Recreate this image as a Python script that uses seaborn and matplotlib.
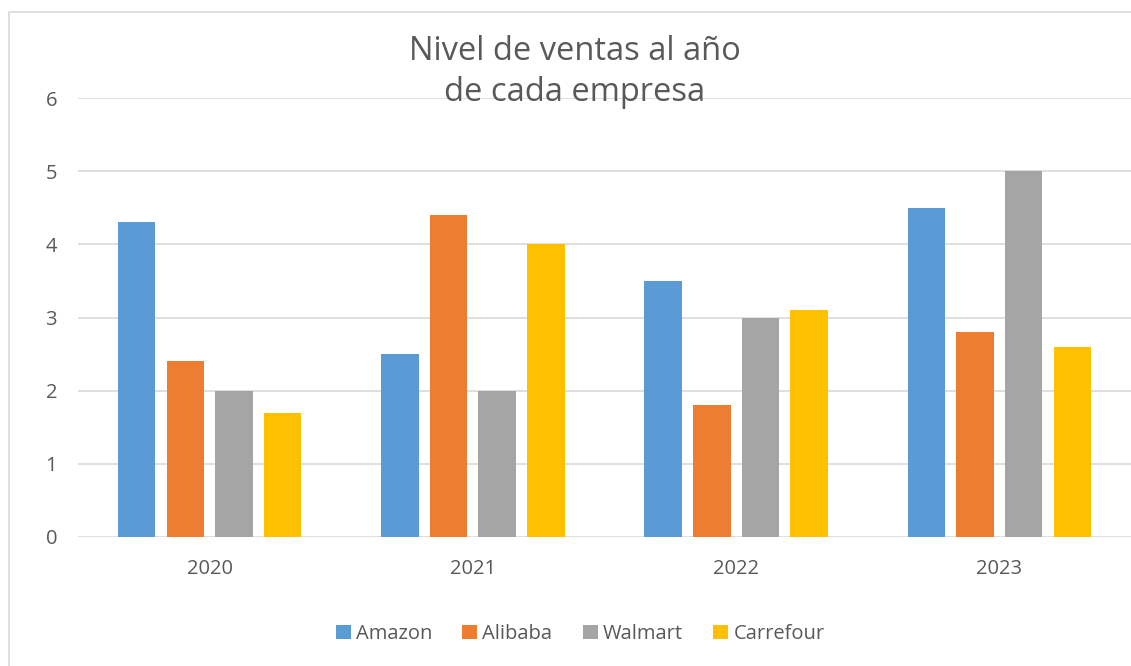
import matplotlib
matplotlib.use("Agg")
import matplotlib.pyplot as plt
import seaborn as sns
import pandas as pd
from matplotlib.patches import Rectangle, Patch

years = ["2020", "2021", "2022", "2023"]
companies = ["Amazon", "Alibaba", "Walmart", "Carrefour"]
amazon = [4.3, 2.5, 3.5, 4.5]
alibaba = [2.4, 4.4, 1.8, 2.8]
walmart = [2.0, 2.0, 3.0, 5.0]
carrefour = [1.7, 4.0, 3.1, 2.6]
colors = ["#5B9BD5", "#ED7D31", "#A5A5A5", "#FFC000"]
title = "Nivel de ventas al año\nde cada empresa"

rows = []
for comp, vals in zip(companies, [amazon, alibaba, walmart, carrefour]):
    for y, v in zip(years, vals):
        rows.append({"Año": y, "Empresa": comp, "Ventas": v})
df = pd.DataFrame(rows)

sns.set_theme(style="white")
plt.rcParams["font.family"] = ["Open Sans", "DejaVu Sans"]
txt = "#595959"

W, H = 1131, 666
fig = plt.figure(figsize=(W / 100, H / 100), dpi=100)
ax = fig.add_axes([78 / W, 1 - 537 / H, (1131 - 78) / W, (537 - 98) / H])

sns.barplot(data=df, x="Año", y="Ventas", hue="Empresa", order=years,
            hue_order=companies, palette=colors, width=0.74, gap=0.23,
            linewidth=0, edgecolor="none", saturation=1, ax=ax, legend=False)

ax.set_ylim(0, 6)
ax.set_xlim(-0.5, 3.5)
ax.set_yticks(range(0, 7))
ax.yaxis.grid(True, color="#D9D9D9", linewidth=1.2)
ax.set_axisbelow(True)
for s in ax.spines.values():
    s.set_visible(False)
ax.set_xlabel("")
ax.set_ylabel("")
ax.tick_params(axis="y", length=0, pad=15, labelsize=14.5, labelcolor=txt)
ax.tick_params(axis="x", length=0, pad=16, labelsize=14.5, labelcolor=txt)

fig.text(575 / W, 1 - 72 / H, title, ha="center", va="center",
         fontsize=23.5, color=txt, linespacing=1.3)

handles = [Patch(facecolor=c, edgecolor="none") for c in colors]
fig.legend(handles, companies, loc="center", bbox_to_anchor=(580 / W, 1 - 634 / H),
           ncol=4, frameon=False, fontsize=14.5, labelcolor=txt,
           handlelength=0.75, handleheight=0.75, handletextpad=0.25,
           columnspacing=1.5)

fig.patches.append(Rectangle((8.5 / W, -0.05), 1.2, (666 - 11.5) / H + 0.05,
                             transform=fig.transFigure, fill=False,
                             edgecolor="#D9D9D9", linewidth=1.2))

fig.savefig("out.png", dpi=100, facecolor="white")
